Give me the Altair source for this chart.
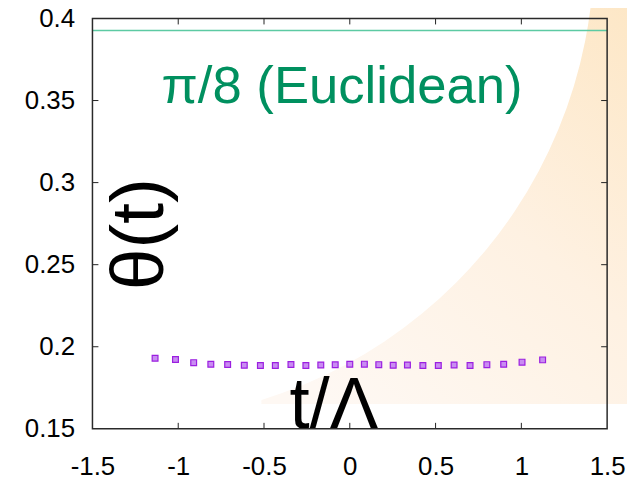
import math
import altair as alt
import pandas as pd

# ---- data ----
t_vals = [-1.135, -1.016, -0.910, -0.810, -0.712, -0.615, -0.521, -0.434, -0.343,
          -0.256, -0.169, -0.085, 0.000, 0.085, 0.169, 0.253, 0.336, 0.426,
          0.516, 0.608, 0.701, 0.799, 0.897, 1.004, 1.124]
theta_vals = [0.1930, 0.1922, 0.1903, 0.1893, 0.1892, 0.1887, 0.1886, 0.1886, 0.1892,
              0.1886, 0.1889, 0.1890, 0.1893, 0.1894, 0.1891, 0.1887, 0.1889, 0.1886,
              0.1886, 0.1889, 0.1886, 0.1891, 0.1893, 0.1906, 0.1920]
theta_err = [0.0006, 0.0006, 0.0005, 0.0005, 0.0005, 0.0005, 0.0005, 0.0005, 0.0005,
             0.0005, 0.0005, 0.0005, 0.0005, 0.0005, 0.0005, 0.0005, 0.0005, 0.0005,
             0.0005, 0.0005, 0.0005, 0.0005, 0.0006, 0.0008, 0.0010]
euclid_value = [math.pi / 8]
x_ticks = [-1.5, -1.0, -0.5, 0.0, 0.5, 1.0, 1.5]
y_ticks = [0.15, 0.2, 0.25, 0.3, 0.35, 0.4]
x_inner_ticks = [-1.0, -0.5, 0.0, 0.5, 1.0]
y_inner_ticks = [0.2, 0.25, 0.3, 0.35]

W, H = 518, 413
FONT = "Liberation Sans"

df = pd.DataFrame({"t": t_vals, "theta": theta_vals, "err": theta_err})
df["lo"] = df["theta"] - df["err"]
df["hi"] = df["theta"] + df["err"]

xscale = alt.Scale(domain=[-1.5, 1.5], nice=False, zero=False)
yscale = alt.Scale(domain=[0.15, 0.4], nice=False, zero=False)

xaxis = alt.Axis(values=x_ticks, ticks=False, tickSize=0, domain=False, grid=False,
                 labelFontSize=26, labelFont=FONT, labelColor="black", labelPadding=25,
                 labelFlush=False, labelOverlap=False, title=None, zindex=2,
                 labelExpr="'' + datum.value")
yaxis = alt.Axis(values=y_ticks, ticks=False, tickSize=0, domain=False, grid=False,
                 labelFontSize=26, labelFont=FONT, labelColor="black", labelPadding=18,
                 labelFlush=False, labelOverlap=False, title=None, zindex=2,
                 labelExpr="'' + datum.value")

one = pd.DataFrame({"k": [0]})

# decorative background (orange sweep with white disc)
grad = alt.Gradient(
    gradient="linear",
    stops=[alt.GradientStop(color="#fde7c6", offset=0),
           alt.GradientStop(color="#fef1e2", offset=0.5),
           alt.GradientStop(color="#fef8f3", offset=1)],
    x1=1, x2=0.2, y1=0, y2=1,
)
bg_orange = alt.Chart(one).mark_rect(fill=grad, strokeWidth=0).encode(
    x=alt.value(170), x2=alt.value(545), y=alt.value(-12), y2=alt.value(388)
)
R = 475
white_disc = alt.Chart(one).mark_circle(color="white", opacity=1,
                                        size=(2 * R) ** 2).encode(
    x=alt.value(30), y=alt.value(-70)
)

ref_line = alt.Chart(pd.DataFrame({"v": euclid_value})).mark_rule(
    color="#5ccaa3", strokeWidth=1.5
).encode(y=alt.Y("v:Q", scale=yscale))

euclid_text = alt.Chart(one).mark_text(
    text="π/8 (Euclidean)", font=FONT, fontSize=53, color="#00905f",
    align="center", baseline="alphabetic"
).encode(x=alt.datum(-0.045, scale=xscale), y=alt.datum(0.3485, scale=yscale))

theta_label = alt.Chart(one).mark_text(
    text="θ(t)", font=FONT, fontSize=75, color="black", angle=270,
    align="center", baseline="alphabetic"
).encode(x=alt.datum(-1.089, scale=xscale), y=alt.datum(0.2686, scale=yscale))

t_label = alt.Chart(one).mark_text(
    text="t/Λ", font=FONT, fontSize=73, color="black",
    align="center", baseline="alphabetic"
).encode(x=alt.datum(-0.093, scale=xscale), y=alt.datum(0.1507, scale=yscale))

err = alt.Chart(df).mark_rule(color="#9b1fe0", strokeWidth=1).encode(
    x=alt.X("t:Q", scale=xscale), y=alt.Y("lo:Q", scale=yscale), y2="hi:Q"
)
pts = alt.Chart(df).mark_square(size=34, fill="#c98cf2", fillOpacity=1,
                                stroke="#9b1fe0", strokeWidth=1.2).encode(
    x=alt.X("t:Q", scale=xscale, axis=xaxis),
    y=alt.Y("theta:Q", scale=yscale, axis=yaxis),
)

xt = pd.DataFrame({"x": x_inner_ticks})
yt = pd.DataFrame({"y": y_inner_ticks})
tick_style = dict(color="#222", strokeWidth=1)
tick_bottom = alt.Chart(xt).mark_rule(**tick_style).encode(
    x=alt.X("x:Q", scale=xscale), y=alt.value(H), y2=alt.value(H - 6))
tick_top = alt.Chart(xt).mark_rule(**tick_style).encode(
    x=alt.X("x:Q", scale=xscale), y=alt.value(0), y2=alt.value(6))
tick_left = alt.Chart(yt).mark_rule(**tick_style).encode(
    y=alt.Y("y:Q", scale=yscale), x=alt.value(0), x2=alt.value(6))
tick_right = alt.Chart(yt).mark_rule(**tick_style).encode(
    y=alt.Y("y:Q", scale=yscale), x=alt.value(W), x2=alt.value(W - 6))

frame = alt.Chart(one).mark_rect(fillOpacity=0, stroke="#2a2a2a", strokeWidth=1.5).encode(
    x=alt.value(0), x2=alt.value(W), y=alt.value(0), y2=alt.value(H)
)

chart = alt.layer(
    bg_orange, white_disc, ref_line, euclid_text, theta_label, t_label,
    err, pts, tick_bottom, tick_top, tick_left, tick_right, frame
).properties(
    width=W, height=H,
    autosize=alt.AutoSizeParams(type="none"),
    padding={"left": 85, "top": 9, "right": 20, "bottom": 52},
).configure_view(stroke=None)

chart.save("out.html", embed_options={"renderer": "svg", "actions": False})
